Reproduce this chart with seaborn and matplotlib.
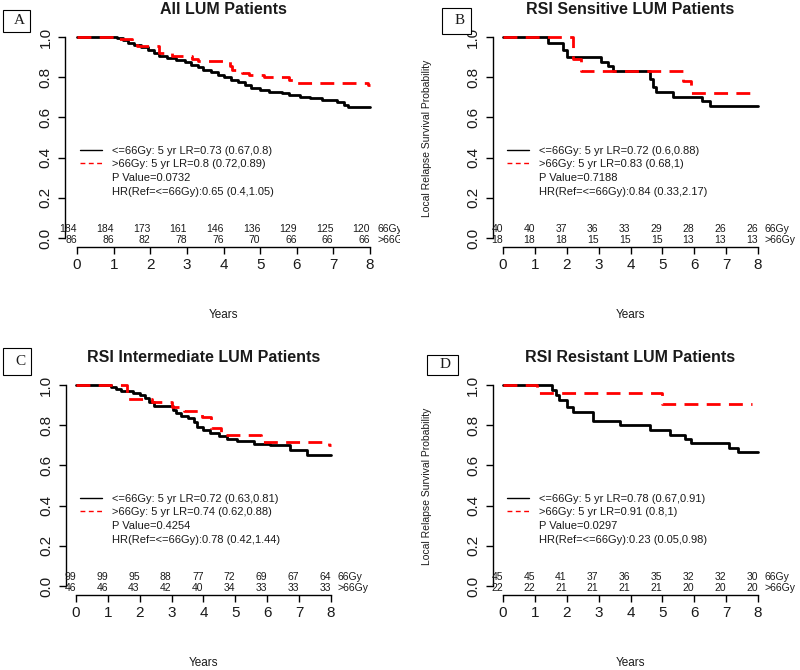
import numpy as np
import pandas as pd
import matplotlib
matplotlib.use("Agg")
import matplotlib.pyplot as plt
import seaborn as sns
from matplotlib.lines import Line2D
from matplotlib.patches import Rectangle
from matplotlib.transforms import Bbox, TransformedBbox

# ---------------- data ----------------
groups = ["<=66Gy", ">66Gy"]
years = [0, 1, 2, 3, 4, 5, 6, 7, 8]
yticks = [0.0, 0.2, 0.4, 0.6, 0.8, 1.0]

titles = ["All LUM Patients", "RSI Sensitive LUM Patients",
          "RSI Intermediate LUM Patients", "RSI Resistant LUM Patients"]
panel_letters = ["A", "B", "C", "D"]

# Panel A
a_le_t = [0, 1.1, 1.25, 1.4, 1.55, 1.75, 1.95, 2.1, 2.25, 2.45, 2.7, 2.95, 3.1, 3.3, 3.45,
          3.65, 3.85, 4.0, 4.2, 4.4, 4.6, 4.75, 5.0, 5.25, 5.6, 5.8, 6.1, 6.35, 6.7, 7.1,
          7.3, 7.4, 8.0]
a_le_s = [1.0, 0.995, 0.985, 0.97, 0.96, 0.95, 0.935, 0.92, 0.905, 0.895, 0.885, 0.875,
          0.86, 0.85, 0.835, 0.825, 0.81, 0.80, 0.785, 0.775, 0.76, 0.745, 0.735, 0.727,
          0.72, 0.71, 0.70, 0.695, 0.685, 0.675, 0.662, 0.652, 0.652]
a_gt_t = [0, 1.1, 1.5, 1.65, 2.25, 2.6, 3.15, 3.3, 4.18, 4.22, 4.5, 4.7, 5.1, 5.8, 5.95,
          7.95, 8.0]
a_gt_s = [1.0, 0.99, 0.97, 0.955, 0.92, 0.905, 0.89, 0.883, 0.855, 0.835, 0.82, 0.81,
          0.80, 0.785, 0.77, 0.76, 0.76]

# Panel B
b_le_t = [0, 1.41, 1.88, 2.0, 3.09, 3.3, 3.45, 4.6, 4.7, 4.8, 5.33, 6.23, 6.49, 8.0]
b_le_s = [1.0, 0.97, 0.935, 0.90, 0.877, 0.854, 0.831, 0.79, 0.75, 0.728, 0.703, 0.684,
          0.655, 0.655]
b_gt_t = [0, 2.2, 2.45, 5.64, 5.9, 7.8]
b_gt_s = [1.0, 0.89, 0.833, 0.78, 0.722, 0.722]

# Panel C
c_le_t = [0, 1.1, 1.25, 1.4, 1.8, 2.0, 2.15, 2.3, 2.45, 3.05, 3.15, 3.3, 3.5, 3.7, 3.8,
          4.0, 4.2, 4.5, 4.75, 5.05, 5.6, 6.1, 6.7, 7.25, 8.0]
c_le_s = [1.0, 0.99, 0.98, 0.97, 0.96, 0.95, 0.935, 0.915, 0.895, 0.875, 0.86, 0.845,
          0.835, 0.815, 0.79, 0.775, 0.76, 0.745, 0.73, 0.72, 0.705, 0.70, 0.675, 0.65,
          0.65]
c_gt_t = [0, 1.6, 2.4, 3.0, 3.4, 3.95, 4.22, 4.55, 5.8, 7.95, 8.0]
c_gt_s = [1.0, 0.93, 0.915, 0.89, 0.87, 0.84, 0.785, 0.75, 0.717, 0.70, 0.70]

# Panel D
d_le_t = [0, 1.55, 1.65, 1.75, 2.0, 2.2, 2.83, 3.67, 4.6, 5.24, 5.7, 5.9, 7.1, 7.37, 8.0]
d_le_s = [1.0, 0.975, 0.95, 0.925, 0.892, 0.867, 0.822, 0.80, 0.778, 0.753, 0.733,
          0.712, 0.688, 0.667, 0.667]
d_gt_t = [0, 1.06, 4.98, 7.8]
d_gt_s = [1.0, 0.958, 0.908, 0.908]

# numbers at risk
a_risk_le = [184, 184, 173, 161, 146, 136, 129, 125, 120]
a_risk_gt = [86, 86, 82, 78, 76, 70, 66, 66, 66]
b_risk_le = [40, 40, 37, 36, 33, 29, 28, 26, 26]
b_risk_gt = [18, 18, 18, 15, 15, 15, 13, 13, 13]
c_risk_le = [99, 99, 95, 88, 77, 72, 69, 67, 64]
c_risk_gt = [46, 46, 43, 42, 40, 34, 33, 33, 33]
d_risk_le = [45, 45, 41, 37, 36, 35, 32, 32, 30]
d_risk_gt = [22, 22, 21, 21, 21, 21, 20, 20, 20]
risk_row_labels = ["66Gy", ">66Gy"]

a_legend = ["<=66Gy: 5 yr LR=0.73 (0.67,0.8)", ">66Gy: 5 yr LR=0.8 (0.72,0.89)",
            "P Value=0.0732", "HR(Ref=<=66Gy):0.65 (0.4,1.05)"]
b_legend = ["<=66Gy: 5 yr LR=0.72 (0.6,0.88)", ">66Gy: 5 yr LR=0.83 (0.68,1)",
            "P Value=0.7188", "HR(Ref=<=66Gy):0.84 (0.33,2.17)"]
c_legend = ["<=66Gy: 5 yr LR=0.72 (0.63,0.81)", ">66Gy: 5 yr LR=0.74 (0.62,0.88)",
            "P Value=0.4254", "HR(Ref=<=66Gy):0.78 (0.42,1.44)"]
d_legend = ["<=66Gy: 5 yr LR=0.78 (0.67,0.91)", ">66Gy: 5 yr LR=0.91 (0.8,1)",
            "P Value=0.0297", "HR(Ref=<=66Gy):0.23 (0.05,0.98)"]

panels = [
    (a_le_t, a_le_s, a_gt_t, a_gt_s, a_risk_le, a_risk_gt, a_legend),
    (b_le_t, b_le_s, b_gt_t, b_gt_s, b_risk_le, b_risk_gt, b_legend),
    (c_le_t, c_le_s, c_gt_t, c_gt_s, c_risk_le, c_risk_gt, c_legend),
    (d_le_t, d_le_s, d_gt_t, d_gt_s, d_risk_le, d_risk_gt, d_legend),
]

# ---------------- style ----------------
sns.set_theme(style="white")
plt.rcParams["font.family"] = ["Liberation Sans", "DejaVu Sans"]
TXT = "#1a1a1a"

W, H = 800, 670
fig = plt.figure(figsize=(8, 6.7), dpi=100)

# axes rectangles in pixels: left, top, width, height
rects = [(65.3, 29, 316.4, 218), (492.8, 29, 275.4, 218),
         (65.8, 377, 275.4, 218), (492.8, 377, 275.4, 218)]
letter_boxes = [(3, 10, 27, 22), (442, 8, 29, 26), (3, 348, 28, 27), (427, 355, 31, 20)]

palette = {"<=66Gy": "black", ">66Gy": "red"}
dashes = {"<=66Gy": "", ">66Gy": (5, 3)}

for i, (le_t, le_s, gt_t, gt_s, r_le, r_gt, leg) in enumerate(panels):
    l, t, w, h = rects[i]
    ax = fig.add_axes([l / W, 1 - (t + h) / H, w / W, h / H])
    df = pd.concat([
        pd.DataFrame({"time": le_t, "surv": le_s, "group": groups[0]}),
        pd.DataFrame({"time": gt_t, "surv": gt_s, "group": groups[1]}),
    ], ignore_index=True)
    sns.lineplot(data=df, x="time", y="surv", hue="group", style="group",
                 hue_order=groups, style_order=groups, palette=palette, dashes=dashes,
                 drawstyle="steps-post", linewidth=2.0, estimator=None, sort=False,
                 legend=False, ax=ax)
    ax.set_xlim(-0.32, 8.32)
    ax.set_ylim(-0.045, 1.04)
    ax.set_xticks(years)
    ax.set_xticklabels([str(y) for y in years])
    ax.set_yticks(yticks)
    ax.set_yticklabels([f"{v:.1f}" for v in yticks])
    for s in ["top", "right"]:
        ax.spines[s].set_visible(False)
    ax.spines["left"].set_bounds(0, 1)
    ax.spines["bottom"].set_bounds(0, 8)
    for s in ["left", "bottom"]:
        ax.spines[s].set_color("black")
        ax.spines[s].set_linewidth(1.0)
    ax.tick_params(axis="both", direction="out", length=5, width=1, color="black",
                   labelsize=11, labelcolor=TXT, left=True, bottom=True)
    ax.tick_params(axis="x", pad=3)
    ax.tick_params(axis="y", pad=4)
    for lab in ax.get_yticklabels():
        lab.set_rotation(90)
        lab.set_va("center")
    ax.set_title(titles[i], fontsize=11.5, fontweight="bold", color=TXT, pad=11)
    ax.set_xlabel("Years", fontsize=8.5, color=TXT)
    ax.xaxis.set_label_coords(0.5, -0.285)
    if i in (1, 3):
        ax.set_ylabel("Local Relapse Survival Probability", fontsize=7.5, color=TXT)
        ax.yaxis.set_label_coords(-0.221, 0.5)
    else:
        ax.set_ylabel("")

    # numbers at risk
    clip = None
    if i == 0:
        clip = TransformedBbox(Bbox([[0, 0], [400 / W, 1]]), fig.transFigure)
    for yrow, counts, lab in ((0.045, r_le, risk_row_labels[0]),
                              (-0.008, r_gt, risk_row_labels[1])):
        for x, n in zip(years, counts):
            ax.text(x, yrow, str(n), ha="right", va="center", fontsize=7.5,
                    color=TXT, clip_on=False)
        tt = ax.text(8.2, yrow, lab, ha="left", va="center", fontsize=7.5,
                     color=TXT, clip_on=False)
        if clip is not None:
            tt.set_clip_box(clip)
            tt.set_clip_on(True)

    # legend
    handles = [Line2D([0], [0], color="black", lw=1.0),
               Line2D([0], [0], color="red", lw=1.0, dashes=(3.5, 2.5)),
               Line2D([], [], color="none"),
               Line2D([], [], color="none")]
    x0 = 0.08 if i == 0 else 0.125
    ax.legend(handles, leg, loc="upper left", bbox_to_anchor=(x0, 0.46),
              bbox_transform=ax.transData, frameon=False, fontsize=8,
              handlelength=2.0, handletextpad=0.9, labelspacing=0.33,
              borderpad=0, borderaxespad=0, labelcolor=TXT)

# panel letters in boxes
for (bx, by, bw, bh), letter in zip(letter_boxes, panel_letters):
    fig.add_artist(Rectangle((bx / W, 1 - (by + bh) / H), bw / W, bh / H,
                             transform=fig.transFigure, facecolor="white",
                             edgecolor="black", linewidth=0.8))
    fig.text((bx + bw / 2 + 3) / W, 1 - (by + bh / 2) / H, letter,
             family=["Liberation Serif", "DejaVu Serif"], fontsize=11,
             ha="center", va="center", color=TXT)

fig.savefig("out.png", dpi=100)
